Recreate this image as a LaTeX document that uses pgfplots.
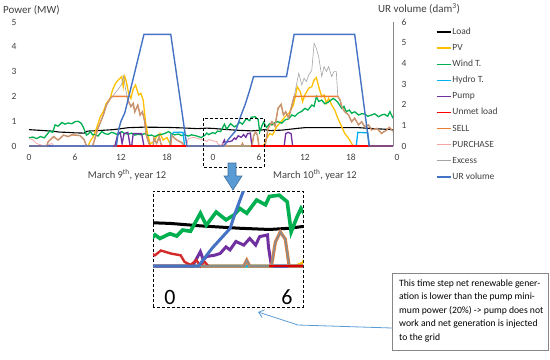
\documentclass[border=0pt]{standalone}
\usepackage{fontspec}
\setmainfont{Carlito}
\usepackage{pgfplots}
\pgfplotsset{compat=1.18}
\usepackage{pgfplotstable}
\usetikzlibrary{arrows.meta}

\definecolor{cload}{HTML}{000000}
\definecolor{cpv}{HTML}{FFC000}
\definecolor{cwind}{HTML}{00B050}
\definecolor{chydro}{HTML}{00B0F0}
\definecolor{cpump}{HTML}{7030A0}
\definecolor{cunmet}{HTML}{FF0000}
\definecolor{csell}{HTML}{ED7D31}
\definecolor{cpurch}{HTML}{F4A6A6}
\definecolor{cpurchin}{HTML}{D42A2A}
\definecolor{cexcess}{HTML}{A5A5A5}
\definecolor{cur}{HTML}{4472C4}
\definecolor{txt}{HTML}{404040}
\definecolor{axgray}{HTML}{868686}
\definecolor{arrfill}{HTML}{5B9BD5}
\definecolor{arrdraw}{HTML}{41719C}

% ---------------- data (hour, value) ----------------
\pgfplotstableread{
h v
0 0.66
1 0.64
2 0.62
3 0.60
4 0.56
5 0.55
6 0.53
7.2 0.52
7.6 0.60
9 0.62
11 0.66
12 0.70
13 0.74
15 0.76
18 0.75
20 0.73
22 0.70
23.2 0.72
24 0.71
25.5 0.67
27.5 0.63
29 0.61
30 0.63
30.7 0.66
31.5 0.62
33 0.64
35 0.71
36 0.74
43 0.74
45 0.70
47.5 0.66
}\tload

\pgfplotstableread{
h v
0 0
7.7 0
8.0 0.20
8.4 0.38
8.8 0.71
9.3 1.18
9.7 1.38
10.1 1.72
10.6 1.92
10.9 2.26
11.3 2.53
11.65 2.66
12.1 2.80
12.3 2.39
12.5 2.80
12.7 2.60
13.0 2.12
13.3 1.92
13.6 2.30
13.9 2.46
14.3 2.06
14.6 2.12
14.9 1.85
15.2 0.98
15.5 0.44
15.8 0.10
16.2 0.15
16.65 0.38
17.1 0.51
17.5 0.24
18.0 0.34
18.4 0.10
18.6 0
30.3 0
30.7 0.05
31.0 0.30
31.4 0.50
31.8 0.45
32.3 0.78
32.7 0.91
33.4 1.18
34.0 1.35
34.5 1.65
34.8 2.06
35.0 2.39
35.4 2.19
35.7 1.79
36.0 2.06
36.5 2.33
36.9 2.39
37.2 2.66
37.5 2.76
37.8 2.39
38.2 1.99
38.5 2.06
38.8 1.72
39.1 1.92
39.5 1.65
39.9 1.45
40.3 1.12
40.8 0.78
41.2 0.51
41.7 0.31
42.1 0.10
42.3 0
47.5 0
}\tpv

\pgfplotstableread{
h v
0 0.33
0.5 0.36
1 0.30
1.5 0.38
2 0.33
2.7 0.60
3.1 0.55
3.4 0.85
3.8 0.80
4.3 0.95
4.7 0.88
5.1 0.93
5.6 0.90
6.0 0.98
6.4 1.00
6.8 0.92
7.1 0.75
7.5 0.44
7.8 0.50
8.0 0.58
8.3 0.45
8.6 0.47
9.0 0.40
9.5 0.58
9.9 0.50
10.3 0.47
10.8 0.55
11.2 0.51
11.6 0.45
12.1 0.58
12.5 0.50
13.0 0.48
13.4 0.52
13.8 0.44
14.2 0.47
14.7 0.45
15.1 0.50
15.6 0.42
16.0 0.44
16.4 0.38
16.9 0.45
17.3 0.47
17.7 0.50
18.2 0.58
18.6 0.50
19.0 0.45
19.5 0.48
19.9 0.42
20.4 0.45
20.8 0.40
21.2 0.45
21.7 0.42
22.1 0.38
22.5 0.34
23.0 0.45
23.2 0.52
23.45 0.46
23.96 0.54
24.3 0.50
24.6 0.60
25.0 0.58
25.5 0.88
25.8 0.68
26.3 0.90
26.8 0.77
27.2 0.85
27.5 0.96
27.85 0.88
28.35 1.10
28.8 1.02
29.0 1.16
29.5 1.18
29.9 1.07
30.1 0.57
30.4 0.82
30.6 0.96
31.0 0.75
31.4 0.90
31.7 0.85
32.1 0.95
32.5 0.98
33.0 0.92
33.4 1.05
33.9 1.10
34.3 1.25
34.7 1.20
35.1 1.32
35.6 1.40
36.0 1.52
36.4 1.45
36.9 1.65
37.2 1.60
37.5 1.99
37.8 1.80
38.2 1.85
38.6 1.70
39.0 1.76
39.4 1.85
39.7 1.92
40.0 1.85
40.3 1.76
40.8 1.52
41.1 1.60
41.4 1.38
41.8 1.45
42.1 1.32
42.5 1.38
43.0 1.25
43.4 1.30
43.8 1.29
44.2 1.20
44.7 1.25
45.1 1.30
45.6 1.18
46.0 1.25
46.4 1.28
46.8 1.20
47.1 1.38
47.5 1.12
}\twind

\pgfplotstableread{
h v
0 0
18.4 0
18.5 0.45
18.9 0.55
20.1 0.55
20.3 0
42.7 0
42.9 0.55
44.2 0.53
44.4 0
47.5 0
}\thydro

\pgfplotstableread{
h v
0 0
11.2 0
11.6 0.50
11.9 0.55
12.15 0.10
12.4 0.50
12.9 0.55
13.2 0
13.4 0
13.6 0.50
14.7 0.50
15.0 0
25.1 0
25.5 0.24
25.65 0.10
25.8 0.16
26.2 0.18
26.5 0.21
26.8 0.32
27.0 0.27
27.3 0.41
27.7 0.35
28.0 0.46
28.3 0.35
28.5 0.49
28.9 0.52
28.95 0.32
29.1 0
33.3 0
33.5 0.50
33.8 0.55
34.2 0.50
34.4 0
47.5 0
}\tpump

\pgfplotstableread{
h v
0 0
2.3 0
2.5 0.17
3.2 0.38
3.8 0.24
4.5 0.44
5.1 0.38
5.6 0.45
6.0 0.44
6.65 0.42
7.2 0.25
7.5 0
8.3 0
8.6 0.30
9.0 0.71
9.7 1.25
10.1 1.65
10.6 1.92
10.9 2.00
12.8 2.00
13.0 1.79
13.3 1.59
13.6 1.72
13.8 1.38
14.2 1.65
14.5 1.25
14.8 1.38
15.1 0.98
15.3 0.44
15.65 0.10
15.9 0
16.2 0
16.3 0.31
16.65 0.10
17.0 0.38
17.2 0.10
17.4 0
18.5 0
18.6 0.44
19.0 0.31
19.5 0.20
19.9 0.15
20.3 0
27.7 0
27.85 0.10
28.0 0
29.1 0
29.3 0.40
29.55 0.57
29.8 0.45
30.0 0
30.8 0
31.2 0.71
31.7 0.98
32.1 0.80
32.5 1.52
32.9 1.68
33.2 1.25
33.5 1.38
33.9 1.12
34.2 1.52
34.6 2.00
40.3 2.00
40.6 1.85
40.8 1.59
41.2 1.38
41.7 1.25
42.1 0.98
42.5 1.12
43.0 0.85
43.4 0.98
43.8 0.78
44.3 0.85
44.7 0.65
45.4 0.71
46.0 0.51
46.7 0.65
47.0 0.75
47.5 0.60
}\tsell

\pgfplotstableread{
h v
0 0.30
0.5 0.25
1.0 0.10
1.5 0.05
2.0 0
3.0 0.10
3.3 0
20.5 0
20.8 0.30
21.5 0.35
22.2 0.28
22.8 0.25
23.2 0.18
23.5 0.26
24.0 0.21
24.5 0.18
24.7 0.07
25.0 0.02
25.3 0.10
25.5 0
25.7 0.08
25.9 0
}\tpurch

\pgfplotstableread{
h v
2.3 0
2.5 0.17
3.2 0.38
3.8 0.24
4.5 0.44
5.1 0.38
5.6 0.45
6.0 0.44
6.65 0.42
7.2 0.25
7.5 0
8.3 0
8.6 0.30
9.0 0.71
9.7 1.25
10.1 1.65
10.6 1.92
10.9 2.00
11.4 2.20
11.8 2.35
12.1 2.50
12.35 2.82
12.6 2.30
12.8 2.00
13.0 1.79
13.3 1.59
13.6 1.72
13.8 1.38
14.2 1.65
14.5 1.25
14.8 1.38
15.1 0.98
15.3 0.44
15.65 0.10
15.9 0
16.2 0
16.3 0.31
16.65 0.10
17.0 0.38
17.2 0.10
17.4 0
18.5 0
18.6 0.44
19.0 0.31
19.5 0.20
19.9 0.15
20.3 0
27.7 0
27.85 0.10
28.0 0
29.1 0
29.3 0.40
29.55 0.57
29.8 0.45
30.0 0
30.8 0
31.2 0.71
31.7 0.98
32.1 0.80
32.5 1.52
32.9 1.68
33.2 1.25
33.5 1.38
33.9 1.12
34.2 1.52
34.6 2.00
34.9 2.46
35.2 2.93
35.6 2.46
35.9 2.73
36.2 2.60
36.5 2.86
36.9 3.06
37.2 4.14
37.5 3.94
37.8 3.60
38.2 2.80
38.5 3.20
38.8 3.00
39.1 3.20
39.5 2.80
39.8 3.00
40.1 3.00
40.3 2.00
40.6 1.85
40.8 1.59
41.2 1.38
41.7 1.25
42.1 0.98
42.5 1.12
43.0 0.85
43.4 0.98
43.8 0.78
44.3 0.85
44.7 0.65
45.4 0.71
46.0 0.51
46.7 0.65
47.0 0.75
47.5 0.60
}\texcess

\pgfplotstableread{
h v
11.0 0
20.8 0
20.9 nan
29.0 0
47.5 0
}\tunmet

\pgfplotstableread{
h v
0 0
11.4 0
11.7 0.80
12.0 1.20
12.5 1.60
12.9 2.20
15.0 5.40
18.5 5.40
20.6 0
25.4 0
26.1 0.36
27.0 0.75
27.3 1.10
27.66 1.48
28.2 2.00
28.8 2.70
29.3 3.36
33.6 3.36
34.6 5.40
42.5 5.40
44.4 0
47.5 0
}\tur

\begin{document}
\begin{tikzpicture}[x=1bp,y=1bp]
\path[use as bounding box] (0,0) rectangle (550,359);

% ---------------- main axis (power) ----------------
\begin{axis}[
  at={(29bp,213bp)}, anchor=south west,
  width=364bp, height=124bp, scale only axis,
  xmin=0, xmax=47.5, ymin=0, ymax=5,
  clip=false,
  axis x line*=bottom, axis y line*=left,
  x axis line style={draw=cur!55, line width=1bp},
  y axis line style={draw=none},
  tick style={draw=none},
  xtick={0,6,12,18,24,30,36,42},
  xticklabels={0,6,12,18,0,6,12,18},
  ytick={0,1,2,3,4,5},
  /pgf/number format/assume math mode=true,
  tick label style={font=\fontsize{9.5}{11}\selectfont, text=txt},
  xticklabel style={yshift=-5bp},
  yticklabel style={xshift=-9bp},
  unbounded coords=jump,
  legend cell align=left,
  legend image code/.code={\draw[#1] (0bp,0bp) -- (14bp,0bp);},
  legend style={at={(1.118,0.956)}, anchor=north west, draw=none, fill=none,
    inner sep=0pt, outer sep=0pt, row sep=7.1bp, column sep=1bp,
    font=\fontsize{9.5}{11}\selectfont, text=txt,
    nodes={inner sep=0pt, text height=7bp, text depth=2bp}},
]
\addplot[draw=cload, line width=1.1bp] table[x=h,y=v] {\tload};
\addlegendentry{Load}
\addplot[draw=cpv, line width=1.3bp] table[x=h,y=v] {\tpv};
\addlegendentry{PV}
\addplot[draw=cwind, line width=1.3bp] table[x=h,y=v] {\twind};
\addlegendentry{Wind T.}
\addplot[draw=chydro, line width=1.3bp] table[x=h,y=v] {\thydro};
\addlegendentry{Hydro T.}
\addplot[draw=cpump, line width=1.3bp] table[x=h,y=v] {\tpump};
\addlegendentry{Pump}
\addlegendimage{draw=cunmet, line width=1.5bp}
\addlegendentry{Unmet load}
\addplot[draw=csell, line width=1.4bp] table[x=h,y=v] {\tsell};
\addlegendentry{SELL}
\addplot[draw=cpurch, line width=0.8bp] table[x=h,y=v] {\tpurch};
\addlegendentry{PURCHASE}
\addplot[draw=cexcess, line width=0.6bp] table[x=h,y=v] {\texcess};
\addlegendentry{Excess}
\addplot[draw=cunmet, line width=1.3bp, forget plot] table[x=h,y=v] {\tunmet};
\addlegendimage{draw=cur, line width=1.5bp}
\addlegendentry{UR volume}
\end{axis}

% ---------------- secondary axis (UR volume) ----------------
\begin{axis}[
  at={(29bp,213bp)}, anchor=south west,
  width=364bp, height=124bp, scale only axis,
  xmin=0, xmax=47.5, ymin=0, ymax=6,
  clip=false,
  axis x line=none, axis y line*=right,
  y axis line style={draw=axgray, line width=0.8bp},
  tick style={draw=none},
  ytick={0,1,2,3,4,5,6},
  /pgf/number format/assume math mode=true,
  tick label style={font=\fontsize{9.5}{11}\selectfont, text=txt},
  yticklabel style={xshift=5bp},
]
\addplot[draw=cur, line width=1.4bp] table[x=h,y=v] {\tur};
\end{axis}

% ---------------- inset (zoom of March 10th, 0-6 h) ----------------
\begin{axis}[
  at={(153bp,52bp)}, anchor=south west,
  width=150bp, height=116bp, scale only axis,
  xmin=23.1, xmax=30.7, ymin=-0.68, ymax=1.25,
  axis lines=box, xtick=\empty, ytick=\empty,
  axis line style={draw=black, line width=0.9bp, dash pattern=on 3bp off 2bp},
  unbounded coords=jump,
]
\addplot[draw=cload, line width=3bp] table[x=h,y=v] {\tload};
\addplot[draw=cpv, line width=3bp] table[x=h,y=v] {\tpv};
\addplot[draw=cwind, line width=3.6bp] table[x=h,y=v] {\twind};
\addplot[draw=chydro, line width=3bp] table[x=h,y=v] {\thydro};
\addplot[draw=cpump, line width=3bp] table[x=h,y=v] {\tpump};
\addplot[draw=csell, line width=3.2bp] table[x=h,y=v] {\tsell};
\addplot[draw=cpurchin, line width=2.4bp] table[x=h,y=v] {\tpurch};
\addplot[draw=cexcess!85!black, line width=1.8bp] table[x=h,y=v] {\texcess};
\addplot[draw=cunmet!85!black, line width=2.4bp] table[x=h,y=v] {\tunmet};
\addplot[draw=cur, line width=3bp] table[x=h,y expr=\thisrow{v}*5/6] {\tur};
\end{axis}

% ---------------- texts and annotations ----------------
\node[anchor=west, font=\fontsize{11}{13}\selectfont, text=txt, inner sep=0] at (3,349) {Power (MW)};
\node[anchor=west, font=\fontsize{11}{13}\selectfont, text=txt, inner sep=0] at (378,350.5) {UR volume (dam\textsuperscript{3})};
\node[font=\fontsize{9.5}{11}\selectfont, text=txt, inner sep=0] at (397,202) {0};
\node[font=\fontsize{10.5}{12}\selectfont, text=txt, inner sep=0] at (127,184) {March 9\textsuperscript{th}, year 12};
\node[font=\fontsize{10.5}{12}\selectfont, text=txt, inner sep=0] at (315,184) {March 10\textsuperscript{th}, year 12};

% dashed zoom frame on main chart
\draw[black, line width=0.9bp, dash pattern=on 3bp off 2bp] (203,241) rectangle (264,192);
% block arrow
\draw[fill=arrfill, draw=arrdraw, line width=0.6bp]
  (228,196) -- (236,196) -- (236,183) -- (242,183) -- (233,169) -- (224,183) -- (228,183) -- cycle;

% inset tick labels
\node[font=\fontsize{22}{24}\selectfont, inner sep=0] at (170,62) {0};
\node[font=\fontsize{22}{24}\selectfont, inner sep=0] at (287,62) {6};

% annotation box
\draw[draw=axgray, line width=0.8bp] (392,9) rectangle (548,86);
\begin{scope}[every node/.style={anchor=base west, inner sep=0, font=\fontsize{9.7}{12}\selectfont}]
\node at (399,73) {This time step net renewable gener-};
\node at (399,59.5) {ation is lower than the pump mini-};
\node at (399,46) {mum power (20\%) -> pump does not};
\node at (399,32.5) {work and net generation is injected};
\node at (399,19) {to the grid};
\end{scope}
\draw[arrfill, line width=0.8bp, -{Straight Barb[length=5bp,width=8bp]}]
  (392,31) -- (298,34) -- (258,47);
\end{tikzpicture}
\end{document}
